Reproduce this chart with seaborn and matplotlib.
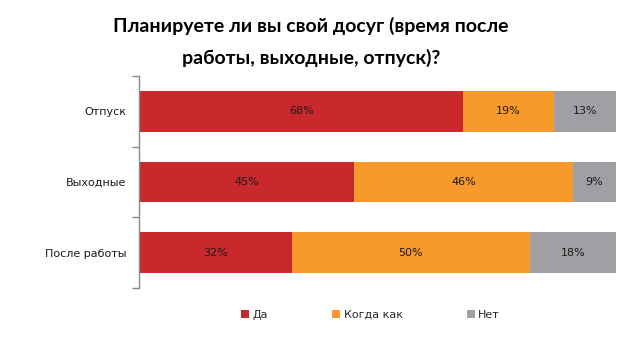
import matplotlib
matplotlib.use("Agg")
import matplotlib.pyplot as plt
import seaborn as sns
import pandas as pd
import numpy as np
from matplotlib.patches import Patch

categories = ["Отпуск", "Выходные", "После работы"]
yes = [68, 45, 32]
sometimes = [19, 46, 50]
no = [13, 9, 18]
series_names = ["Да", "Когда как", "Нет"]
colors = ["#C9282D", "#F7992B", "#A0A0A4"]

sns.set_theme(style="white")
plt.rcParams["font.family"] = ["DejaVu Sans"]

df = pd.DataFrame({"cat": categories, "yes": yes, "sometimes": sometimes, "no": no})
df["c2"] = df["yes"] + df["sometimes"]
df["c3"] = df["c2"] + df["no"]

fig = plt.figure(figsize=(6.24, 3.39), dpi=100)
ax = fig.add_axes([139 / 624, 1 - 288 / 339, (616 - 139) / 624, (288 - 76) / 339])

# stacked bars drawn back-to-front from cumulative totals
for col, color in zip(["c3", "c2", "yes"], colors[::-1]):
    sns.barplot(data=df, x=col, y="cat", color=color, width=0.58,
                saturation=1, ax=ax, orient="h", linewidth=0)

# percentage labels centered in each segment
for i in range(len(categories)):
    left = 0
    for vals in (yes, sometimes, no):
        v = vals[i]
        ax.text(left + v / 2, i, f"{v}%", ha="center", va="center",
                fontsize=8, color="#1a1a1a")
        left += v

ax.set_xlim(0, 100)
ax.set_ylim(2.5, -0.5)
ax.set_xlabel("")
ax.set_ylabel("")
ax.set_xticks([])
ax.set_yticks([0, 1, 2])
ax.set_yticklabels(categories, fontsize=8, color="#1a1a1a")
ax.set_yticks([-0.5, 0.5, 1.5, 2.5], minor=True)
ax.tick_params(axis="y", which="major", left=False, length=0, pad=9)
ax.tick_params(axis="y", which="minor", left=True, length=5, width=1,
               color="#888888", direction="out")
for s in ["top", "right", "bottom"]:
    ax.spines[s].set_visible(False)
ax.spines["left"].set_color("#888888")
ax.spines["left"].set_linewidth(1)

title_kw = dict(ha="center", va="center", fontsize=14, fontweight="bold",
                color="black", family=["Lato", "DejaVu Sans"])
fig.text(311 / 624, 1 - 26 / 339, "Планируете ли вы свой досуг (время после", **title_kw)
fig.text(311 / 624, 1 - 58 / 339, "работы, выходные, отпуск)?", **title_kw)

handles = [Patch(facecolor=c, edgecolor="none") for c in colors]
fig.legend(handles, series_names, loc="center", bbox_to_anchor=(0.594, 1 - 315 / 339),
           ncol=3, frameon=False, fontsize=8, handlelength=0.7, handleheight=0.7,
           handletextpad=0.3, columnspacing=5.8)

fig.savefig("out.png", dpi=100)
